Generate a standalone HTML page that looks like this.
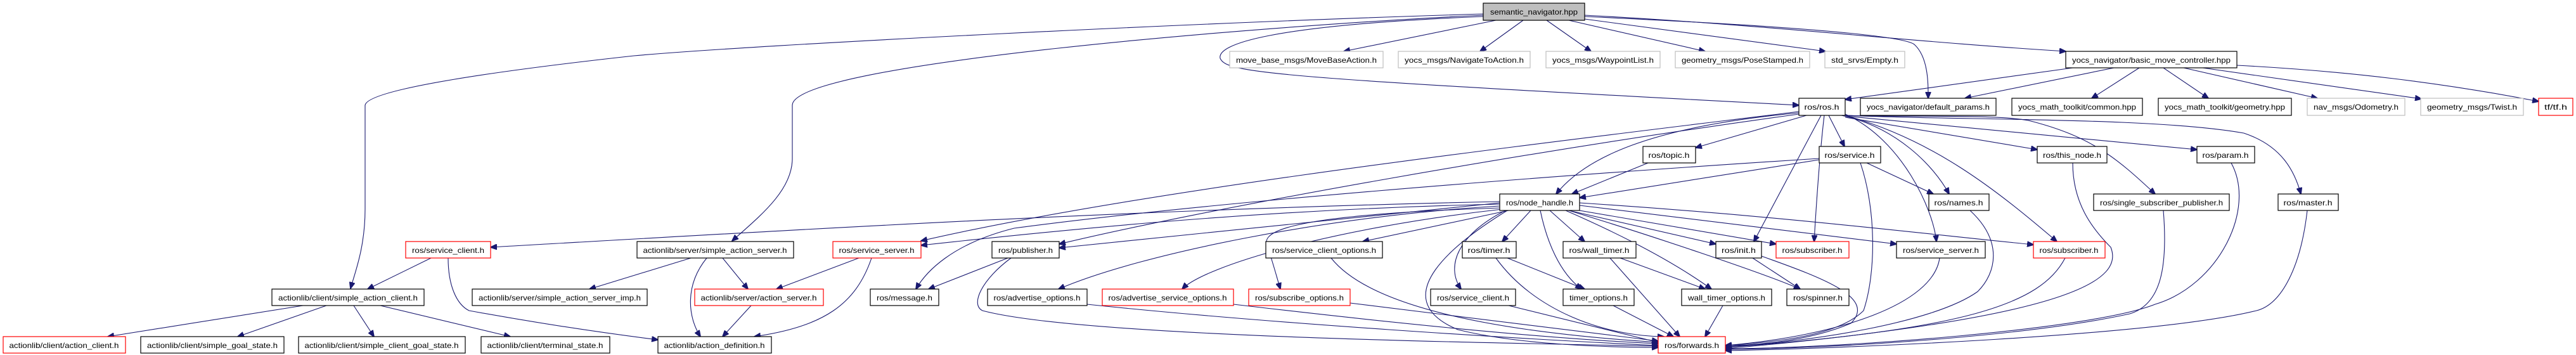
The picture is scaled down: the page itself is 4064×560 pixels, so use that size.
<!DOCTYPE html>
<html><head><meta charset="utf-8"><style>
html,body{margin:0;padding:0;background:#fff;}
svg{display:block;}
text{font-family:"Liberation Sans",sans-serif;font-size:12px;fill:#000;}
.e{fill:none;stroke:#191970;stroke-width:1.1;marker-end:url(#a);}
.n rect{fill:#fff;stroke:#000;stroke-width:1.2;}
.g rect{fill:#fff;stroke:#bfbfbf;stroke-width:1.2;}
.r rect{fill:#fff;stroke:#ff0000;stroke-width:1.2;}
</style></head><body>
<svg width="4064" height="560" viewBox="0 0 4064 560" xmlns="http://www.w3.org/2000/svg">
<defs><marker id="a" markerUnits="userSpaceOnUse" markerWidth="11" markerHeight="9" refX="10" refY="4.5" orient="auto"><path d="M0,0 L11,4.5 L0,9 z" fill="#191970" stroke="#191970"/></marker></defs>

<!-- edges from semantic_navigator -->
<path class="e" d="M2340,22 C1900,35 1200,70 1000,88 C800,110 580,140 576,166 L576,330 C576,390 560,430 553,455"/>
<path class="e" d="M2340,24 C2000,40 1250,100 1250,166 L1250,250 C1250,300 1200,340 1155,380"/>
<path class="e" d="M2360,32 L2120,81"/>
<path class="e" d="M2403,32 L2335,81"/>
<path class="e" d="M2440,32 L2510,81"/>
<path class="e" d="M2475,32 L2690,81"/>
<path class="e" d="M2500,30 L2880,81"/>
<path class="e" d="M2340,26 C2000,40 1920,70 1925,92 C1935,115 2000,122 2838,166"/>
<path class="e" d="M2500,24 C2800,40 3000,65 3259,81"/>
<path class="e" d="M2500,26 C2800,40 3000,55 3020,70 C3042,90 3042,130 3042,155"/>

<!-- basic_move_controller -->
<path class="e" d="M3270,107 L2911,157"/>
<path class="e" d="M3335,107 L3100,155"/>
<path class="e" d="M3375,107 L3300,155"/>
<path class="e" d="M3413,107 L3484,155"/>
<path class="e" d="M3445,107 L3656,155"/>
<path class="e" d="M3475,107 L3820,156"/>
<path class="e" d="M3529,103 C3700,112 3850,130 4005,160"/>

<!-- ros.h -->
<path class="e" d="M2850,182 L2675,233"/>
<path class="e" d="M2885,182 L2910,231"/>
<path class="e" d="M2838,178 C2600,200 2500,250 2455,306"/>
<path class="e" d="M2873,182 L2767,381"/>
<path class="e" d="M2878,182 C2870,250 2865,330 2862,381"/>
<path class="e" d="M2905,182 C2990,200 3050,260 3075,306"/>
<path class="e" d="M2911,180 C3000,220 3050,330 3055,381"/>
<path class="e" d="M2911,182 C3050,220 3150,300 3245,381"/>
<path class="e" d="M2911,185 L3214,236"/>
<path class="e" d="M2911,183 L3466,236"/>
<path class="e" d="M2911,182 C3000,185 3150,180 3200,190 C3300,215 3340,250 3400,306"/>
<path class="e" d="M2911,182 C3100,190 3400,185 3540,210 C3600,230 3620,270 3630,306"/>
<path class="e" d="M2838,176 C2400,230 1800,300 1453,380"/>
<path class="e" d="M2838,180 C2400,240 1900,330 1671,385"/>

<!-- service.h / topic.h -->
<path class="e" d="M2870,252 L2492,312"/>
<path class="e" d="M2945,257 L3050,306"/>
<path class="e" d="M2935,257 C2960,330 2960,430 2940,490 C2900,530 2800,540 2722,545"/>
<path class="e" d="M2870,250 C2400,280 1900,320 1600,360 C1500,385 1460,430 1445,456"/>
<path class="e" d="M2600,257 L2480,306"/>

<!-- node_handle -->
<path class="e" d="M2366,318 C1800,330 1300,360 774,390"/>
<path class="e" d="M2366,322 C2000,330 1700,360 1453,387"/>
<path class="e" d="M2366,320 L1671,391"/>
<path class="e" d="M2380,332 L2150,381"/>
<path class="e" d="M2366,325 C2100,340 1800,400 1670,456"/>
<path class="e" d="M2370,330 C2100,360 1900,420 1865,456"/>
<path class="e" d="M2366,328 C2000,340 1990,370 2000,390 C2010,420 2015,440 2020,456"/>
<path class="e" d="M2415,332 L2370,381"/>
<path class="e" d="M2445,332 L2500,381"/>
<path class="e" d="M2475,332 L2707,385"/>
<path class="e" d="M2480,330 L2802,385"/>
<path class="e" d="M2492,324 L2992,385"/>
<path class="e" d="M2492,320 C2800,340 3000,365 3208,386"/>
<path class="e" d="M2375,332 C2300,370 2280,420 2305,456"/>
<path class="e" d="M2430,332 C2440,380 2460,430 2495,456"/>
<path class="e" d="M2470,332 C2580,380 2650,420 2700,456"/>
<path class="e" d="M2475,332 C2600,370 2780,430 2840,456"/>
<path class="e" d="M2378,332 C2300,380 2180,470 2300,520 C2400,545 2550,548 2616,548"/>

<!-- lower -->
<path class="e" d="M680,407 L580,456"/>
<path class="e" d="M707,407 C707,450 720,480 740,490 C850,510 950,525 1038,536"/>
<path class="e" d="M478,482 L170,531"/>
<path class="e" d="M515,482 L375,531"/>
<path class="e" d="M558,482 L590,531"/>
<path class="e" d="M600,482 L805,531"/>
<path class="e" d="M1090,407 L930,456"/>
<path class="e" d="M1140,407 L1180,456"/>
<path class="e" d="M1115,407 C1080,450 1085,500 1105,531"/>
<path class="e" d="M1355,407 L1225,456"/>
<path class="e" d="M1375,407 C1350,480 1300,515 1190,531"/>
<path class="e" d="M1185,482 L1140,531"/>
<path class="e" d="M1590,407 L1465,456"/>
<path class="e" d="M1595,407 C1550,440 1530,480 1550,490 C1700,530 2300,540 2616,546"/>
<path class="e" d="M2100,407 C2150,470 2300,520 2616,540"/>
<path class="e" d="M1715,480 C2000,510 2400,535 2616,545"/>
<path class="e" d="M1946,480 C2200,510 2450,535 2616,542"/>
<path class="e" d="M2130,478 L2616,538"/>
<path class="e" d="M2360,407 C2420,490 2530,530 2625,531"/>
<path class="e" d="M2378,407 L2500,456"/>
<path class="e" d="M2540,407 L2650,531"/>
<path class="e" d="M2556,407 L2690,456"/>
<path class="e" d="M2765,407 L2840,456"/>
<path class="e" d="M2779,404 C2880,440 2960,470 2920,510 C2850,540 2760,545 2722,545"/>
<path class="e" d="M3258,407 C3220,480 3100,520 2722,548"/>
<path class="e" d="M3060,407 C3050,480 2900,530 2722,545"/>
<path class="e" d="M3108,332 C3160,380 3150,430 3120,460 C3050,510 2850,540 2722,547"/>
<path class="e" d="M3270,257 C3270,320 3300,360 3330,390 C3350,440 3280,500 2722,550"/>
<path class="e" d="M3520,257 C3560,330 3500,450 3400,480 C3300,520 2900,550 2722,550"/>
<path class="e" d="M3413,332 C3420,420 3410,480 3360,495 C3200,530 2900,550 2722,551"/>
<path class="e" d="M3640,332 C3630,420 3600,480 3560,490 C3400,530 2900,550 2722,553"/>
<path class="e" d="M2380,482 L2616,540"/>
<path class="e" d="M2545,482 L2640,531"/>
<path class="e" d="M2718,482 L2690,531"/>

<!-- nodes -->
<g class="g"><rect x="2340" y="5" width="160" height="27" fill="#bfbfbf" style="fill:#bfbfbf;stroke:#000"/><text x="2420" y="23" text-anchor="middle" textLength="138" lengthAdjust="spacingAndGlyphs">semantic_navigator.hpp</text></g>

<g class="g"><rect x="1940" y="81" width="242" height="26"/><text x="2061" y="99" text-anchor="middle" textLength="222" lengthAdjust="spacingAndGlyphs">move_base_msgs/MoveBaseAction.h</text></g>
<g class="g"><rect x="2206" y="81" width="208" height="26"/><text x="2310" y="99" text-anchor="middle" textLength="188" lengthAdjust="spacingAndGlyphs">yocs_msgs/NavigateToAction.h</text></g>
<g class="g"><rect x="2439" y="81" width="180" height="26"/><text x="2529" y="99" text-anchor="middle" textLength="160" lengthAdjust="spacingAndGlyphs">yocs_msgs/WaypointList.h</text></g>
<g class="g"><rect x="2643" y="81" width="212" height="26"/><text x="2749" y="99" text-anchor="middle" textLength="192" lengthAdjust="spacingAndGlyphs">geometry_msgs/PoseStamped.h</text></g>
<g class="g"><rect x="2879" y="81" width="126" height="26"/><text x="2942" y="99" text-anchor="middle" textLength="106" lengthAdjust="spacingAndGlyphs">std_srvs/Empty.h</text></g>
<g class="n"><rect x="3259" y="81" width="270" height="26"/><text x="3394" y="99" text-anchor="middle" textLength="250" lengthAdjust="spacingAndGlyphs">yocs_navigator/basic_move_controller.hpp</text></g>

<g class="n"><rect x="2838" y="155" width="73" height="27"/><text x="2874" y="173" text-anchor="middle" textLength="55" lengthAdjust="spacingAndGlyphs">ros/ros.h</text></g>
<g class="n"><rect x="2935" y="155" width="214" height="27"/><text x="3042" y="173" text-anchor="middle" textLength="194" lengthAdjust="spacingAndGlyphs">yocs_navigator/default_params.h</text></g>
<g class="n"><rect x="3174" y="155" width="206" height="27"/><text x="3277" y="173" text-anchor="middle" textLength="186" lengthAdjust="spacingAndGlyphs">yocs_math_toolkit/common.hpp</text></g>
<g class="n"><rect x="3405" y="155" width="210" height="27"/><text x="3510" y="173" text-anchor="middle" textLength="190" lengthAdjust="spacingAndGlyphs">yocs_math_toolkit/geometry.hpp</text></g>
<g class="g"><rect x="3640" y="155" width="154" height="27"/><text x="3717" y="173" text-anchor="middle" textLength="134" lengthAdjust="spacingAndGlyphs">nav_msgs/Odometry.h</text></g>
<g class="g"><rect x="3819" y="155" width="162" height="27"/><text x="3900" y="173" text-anchor="middle" textLength="142" lengthAdjust="spacingAndGlyphs">geometry_msgs/Twist.h</text></g>
<g class="r"><rect x="4005" y="155" width="54" height="27"/><text x="4032" y="173" text-anchor="middle" textLength="36" lengthAdjust="spacingAndGlyphs">tf/tf.h</text></g>

<g class="n"><rect x="2592" y="231" width="83" height="26"/><text x="2633" y="249" text-anchor="middle" textLength="65" lengthAdjust="spacingAndGlyphs">ros/topic.h</text></g>
<g class="n"><rect x="2870" y="231" width="97" height="26"/><text x="2918" y="249" text-anchor="middle" textLength="79" lengthAdjust="spacingAndGlyphs">ros/service.h</text></g>
<g class="n"><rect x="3214" y="231" width="110" height="26"/><text x="3269" y="249" text-anchor="middle" textLength="92" lengthAdjust="spacingAndGlyphs">ros/this_node.h</text></g>
<g class="n"><rect x="3466" y="231" width="91" height="26"/><text x="3511" y="249" text-anchor="middle" textLength="73" lengthAdjust="spacingAndGlyphs">ros/param.h</text></g>

<g class="n"><rect x="2366" y="306" width="126" height="26"/><text x="2429" y="324" text-anchor="middle" textLength="106" lengthAdjust="spacingAndGlyphs">ros/node_handle.h</text></g>
<g class="n"><rect x="3043" y="306" width="95" height="26"/><text x="3090" y="324" text-anchor="middle" textLength="77" lengthAdjust="spacingAndGlyphs">ros/names.h</text></g>
<g class="n"><rect x="3303" y="306" width="214" height="26"/><text x="3410" y="324" text-anchor="middle" textLength="194" lengthAdjust="spacingAndGlyphs">ros/single_subscriber_publisher.h</text></g>
<g class="n"><rect x="3594" y="306" width="95" height="26"/><text x="3641" y="324" text-anchor="middle" textLength="77" lengthAdjust="spacingAndGlyphs">ros/master.h</text></g>

<g class="r"><rect x="640" y="381" width="134" height="26"/><text x="707" y="399" text-anchor="middle" textLength="114" lengthAdjust="spacingAndGlyphs">ros/service_client.h</text></g>
<g class="n"><rect x="1005" y="381" width="247" height="26"/><text x="1128" y="399" text-anchor="middle" textLength="227" lengthAdjust="spacingAndGlyphs">actionlib/server/simple_action_server.h</text></g>
<g class="r"><rect x="1314" y="381" width="139" height="26"/><text x="1383" y="399" text-anchor="middle" textLength="119" lengthAdjust="spacingAndGlyphs">ros/service_server.h</text></g>
<g class="n"><rect x="1565" y="381" width="106" height="26"/><text x="1618" y="399" text-anchor="middle" textLength="86" lengthAdjust="spacingAndGlyphs">ros/publisher.h</text></g>
<g class="n"><rect x="1997" y="381" width="184" height="26"/><text x="2089" y="399" text-anchor="middle" textLength="164" lengthAdjust="spacingAndGlyphs">ros/service_client_options.h</text></g>
<g class="n"><rect x="2307" y="381" width="85" height="26"/><text x="2349" y="399" text-anchor="middle" textLength="67" lengthAdjust="spacingAndGlyphs">ros/timer.h</text></g>
<g class="n"><rect x="2466" y="381" width="115" height="26"/><text x="2523" y="399" text-anchor="middle" textLength="95" lengthAdjust="spacingAndGlyphs">ros/wall_timer.h</text></g>
<g class="n"><rect x="2707" y="381" width="72" height="26"/><text x="2743" y="399" text-anchor="middle" textLength="54" lengthAdjust="spacingAndGlyphs">ros/init.h</text></g>
<g class="r"><rect x="2802" y="381" width="115" height="26"/><text x="2859" y="399" text-anchor="middle" textLength="95" lengthAdjust="spacingAndGlyphs">ros/subscriber.h</text></g>
<g class="n"><rect x="2992" y="381" width="140" height="26"/><text x="3062" y="399" text-anchor="middle" textLength="120" lengthAdjust="spacingAndGlyphs">ros/service_server.h</text></g>
<g class="r"><rect x="3208" y="381" width="113" height="26"/><text x="3264" y="399" text-anchor="middle" textLength="93" lengthAdjust="spacingAndGlyphs">ros/subscriber.h</text></g>

<g class="n"><rect x="429" y="456" width="240" height="26"/><text x="549" y="474" text-anchor="middle" textLength="220" lengthAdjust="spacingAndGlyphs">actionlib/client/simple_action_client.h</text></g>
<g class="n"><rect x="745" y="456" width="276" height="26"/><text x="883" y="474" text-anchor="middle" textLength="256" lengthAdjust="spacingAndGlyphs">actionlib/server/simple_action_server_imp.h</text></g>
<g class="r"><rect x="1096" y="456" width="203" height="26"/><text x="1197" y="474" text-anchor="middle" textLength="183" lengthAdjust="spacingAndGlyphs">actionlib/server/action_server.h</text></g>
<g class="n"><rect x="1373" y="456" width="108" height="26"/><text x="1427" y="474" text-anchor="middle" textLength="88" lengthAdjust="spacingAndGlyphs">ros/message.h</text></g>
<g class="n"><rect x="1558" y="456" width="157" height="26"/><text x="1636" y="474" text-anchor="middle" textLength="137" lengthAdjust="spacingAndGlyphs">ros/advertise_options.h</text></g>
<g class="r"><rect x="1739" y="456" width="207" height="26"/><text x="1842" y="474" text-anchor="middle" textLength="187" lengthAdjust="spacingAndGlyphs">ros/advertise_service_options.h</text></g>
<g class="r"><rect x="1970" y="456" width="160" height="26"/><text x="2050" y="474" text-anchor="middle" textLength="140" lengthAdjust="spacingAndGlyphs">ros/subscribe_options.h</text></g>
<g class="n"><rect x="2257" y="456" width="134" height="26"/><text x="2324" y="474" text-anchor="middle" textLength="114" lengthAdjust="spacingAndGlyphs">ros/service_client.h</text></g>
<g class="n"><rect x="2466" y="456" width="112" height="26"/><text x="2522" y="474" text-anchor="middle" textLength="92" lengthAdjust="spacingAndGlyphs">timer_options.h</text></g>
<g class="n"><rect x="2653" y="456" width="142" height="26"/><text x="2724" y="474" text-anchor="middle" textLength="122" lengthAdjust="spacingAndGlyphs">wall_timer_options.h</text></g>
<g class="n"><rect x="2819" y="456" width="98" height="26"/><text x="2868" y="474" text-anchor="middle" textLength="78" lengthAdjust="spacingAndGlyphs">ros/spinner.h</text></g>

<g class="r"><rect x="5" y="531" width="193" height="26"/><text x="101" y="549" text-anchor="middle" textLength="173" lengthAdjust="spacingAndGlyphs">actionlib/client/action_client.h</text></g>
<g class="n"><rect x="222" y="531" width="226" height="26"/><text x="335" y="549" text-anchor="middle" textLength="206" lengthAdjust="spacingAndGlyphs">actionlib/client/simple_goal_state.h</text></g>
<g class="n"><rect x="471" y="531" width="263" height="26"/><text x="602" y="549" text-anchor="middle" textLength="243" lengthAdjust="spacingAndGlyphs">actionlib/client/simple_client_goal_state.h</text></g>
<g class="n"><rect x="759" y="531" width="203" height="26"/><text x="860" y="549" text-anchor="middle" textLength="183" lengthAdjust="spacingAndGlyphs">actionlib/client/terminal_state.h</text></g>
<g class="n"><rect x="1038" y="531" width="179" height="26"/><text x="1127" y="549" text-anchor="middle" textLength="159" lengthAdjust="spacingAndGlyphs">actionlib/action_definition.h</text></g>
<g class="r"><rect x="2616" y="531" width="106" height="26"/><text x="2669" y="549" text-anchor="middle" textLength="86" lengthAdjust="spacingAndGlyphs">ros/forwards.h</text></g>
</svg>
</body></html>
